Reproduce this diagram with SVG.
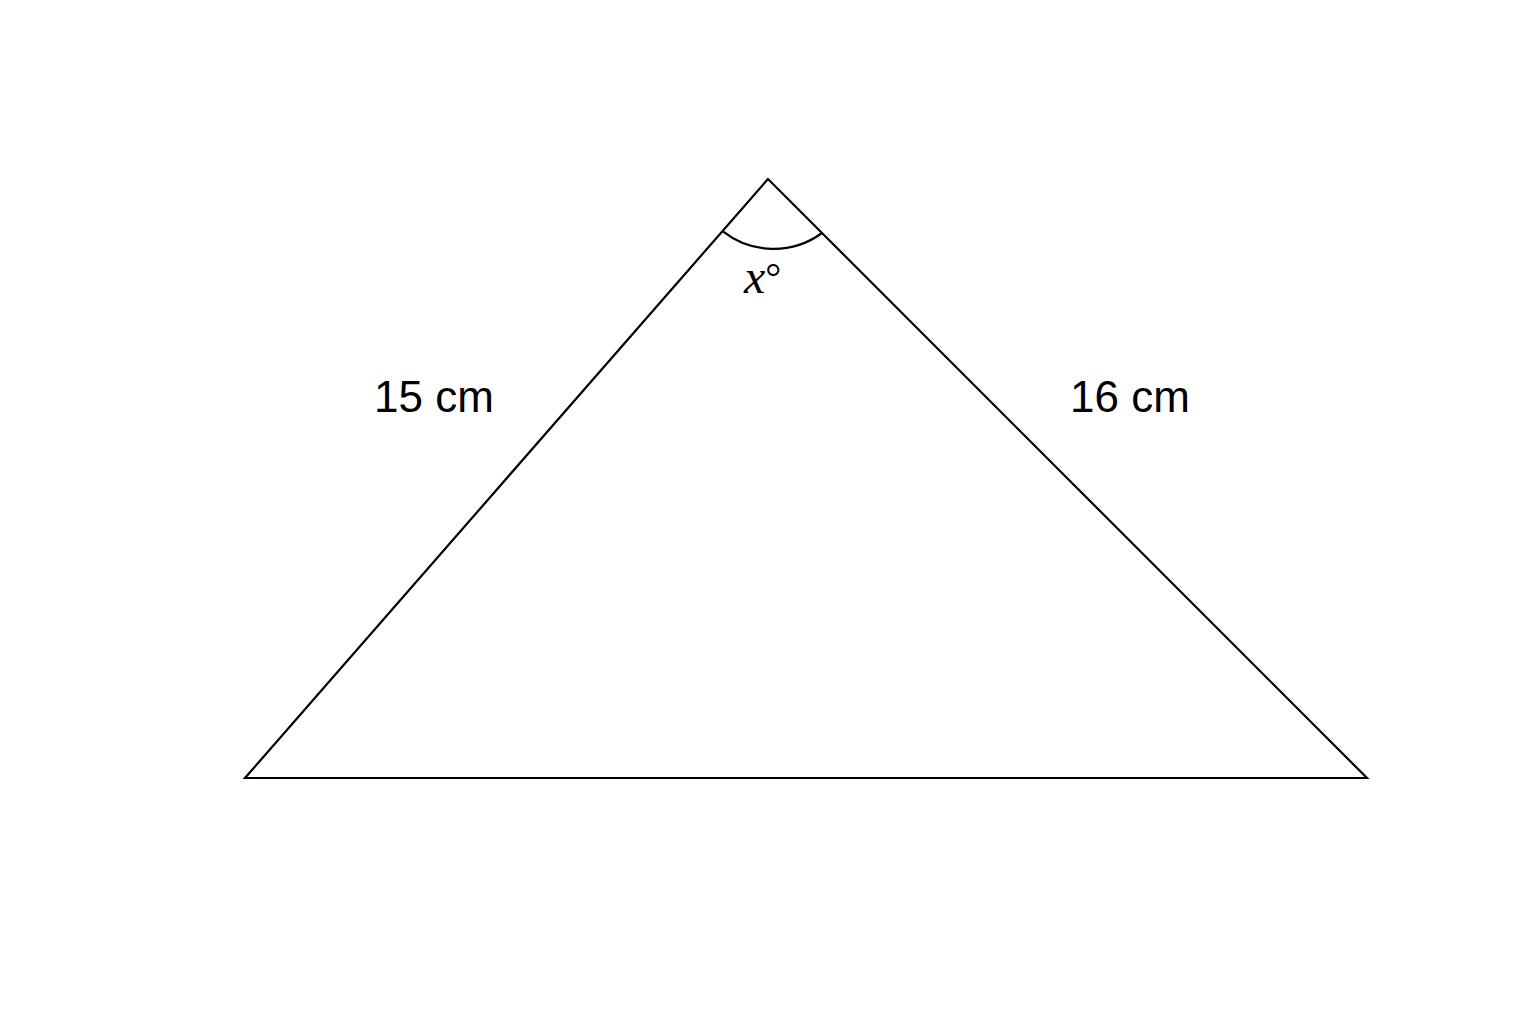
<svg xmlns="http://www.w3.org/2000/svg" width="1536" height="1024" viewBox="0 0 1536 1024">
<style>
.ln{fill:none;stroke:#000;stroke-width:2.2;stroke-linejoin:miter}
.lbl{font-family:"Liberation Sans",Arial,sans-serif;font-size:44px;fill:#000}
.ang{font-family:"Liberation Serif","Times New Roman",serif;font-size:48px;fill:#000}
</style>
<rect width="1536" height="1024" fill="#fff"/>
<g id="triangle">
<polygon class="ln" points="768,179 245,778 1367,778"/>
<path class="ln" d="M722.6,231.1 A82,82 0 0 0 822,233"/>
</g>
<g id="labels">
<text class="lbl" x="374" y="412">15 cm</text>
<text class="lbl" x="1070" y="412">16 cm</text>
<text class="ang" x="744" y="293"><tspan font-style="italic">x</tspan><tspan font-size="40" dy="-2">°</tspan></text>
</g>
</svg>
